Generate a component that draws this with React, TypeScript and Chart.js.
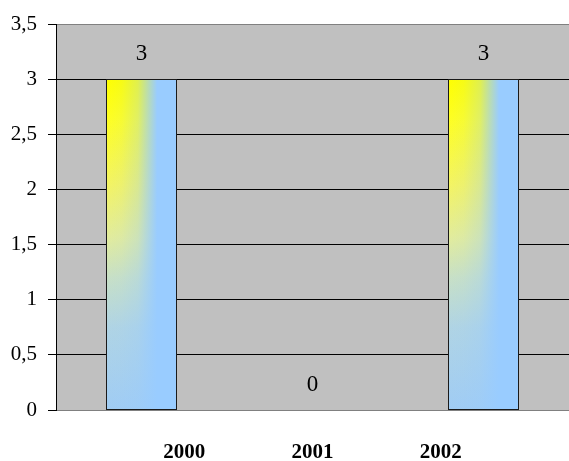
import React, { useEffect, useRef } from "react";
import { Chart, registerables } from "chart.js";

Chart.register(...registerables);

const categories: string[] = ["2000", "2001", "2002"];
const values: number[] = [3, 0, 3];
const axisLabels: string[] = ["", "2000", "2001", "2002", ""];
const yMin = 0;
const yMax = 3.5;
const yStep = 0.5;

const FONT = "'Liberation Serif', 'Times New Roman', serif";

const plotBgPlugin = {
  id: "plotBg",
  beforeDraw(chart: any) {
    const { ctx, chartArea } = chart;
    if (!chartArea) return;
    ctx.save();
    ctx.fillStyle = "#C0C0C0";
    ctx.fillRect(chartArea.left, chartArea.top, chartArea.right - chartArea.left, chartArea.bottom - chartArea.top);
    ctx.restore();
  },
};

function barRect(el: any) {
  const p = el.getProps(["x", "y", "base", "width"], true);
  const left = Math.round(p.x - p.width / 2);
  const right = Math.round(p.x + p.width / 2);
  const top = Math.round(Math.min(p.y, p.base));
  const bottom = Math.round(Math.max(p.y, p.base));
  return { left, top, w: right - left, h: bottom - top };
}

const barFillPlugin = {
  id: "barFill",
  afterDatasetsDraw(chart: any) {
    const { ctx } = chart;
    const meta = chart.getDatasetMeta(0);
    meta.data.forEach((el: any) => {
      const { left, top, w, h } = barRect(el);
      if (h < 1) return;
      ctx.save();
      const gv = ctx.createLinearGradient(0, top, 0, top + h);
      gv.addColorStop(0, "#FFFF00");
      gv.addColorStop(0.12, "#FFFF20");
      gv.addColorStop(0.32, "#F4F462");
      gv.addColorStop(0.48, "#E2EC9C");
      gv.addColorStop(0.6, "#C8E0C6");
      gv.addColorStop(0.75, "#B0D4E4");
      gv.addColorStop(1, "#A0CCF4");
      ctx.fillStyle = gv;
      ctx.fillRect(left, top, w, h);
      const gh = ctx.createLinearGradient(left, 0, left + w, 0);
      gh.addColorStop(0, "rgba(153,204,255,0)");
      gh.addColorStop(0.22, "rgba(153,204,255,0.08)");
      gh.addColorStop(0.45, "rgba(153,204,255,0.3)");
      gh.addColorStop(0.6, "rgba(153,204,255,0.7)");
      gh.addColorStop(0.72, "rgba(153,204,255,1)");
      gh.addColorStop(1, "rgba(153,204,255,1)");
      ctx.fillStyle = gh;
      ctx.fillRect(left, top, w, h);
      ctx.strokeStyle = "#1a1a1a";
      ctx.lineWidth = 1;
      ctx.strokeRect(left + 0.5, top + 0.5, w - 1, h - 1);
      ctx.restore();
    });
  },
};

const valueLabelPlugin = {
  id: "valueLabels",
  afterDatasetsDraw(chart: any) {
    const { ctx } = chart;
    const meta = chart.getDatasetMeta(0);
    ctx.save();
    ctx.fillStyle = "#000";
    ctx.font = `23px ${FONT}`;
    ctx.textAlign = "center";
    ctx.textBaseline = "middle";
    meta.data.forEach((el: any, i: number) => {
      const p = el.getProps(["x", "y"], true);
      ctx.fillText(String(values[i]), p.x, p.y - 25);
    });
    ctx.restore();
  },
};

export default function App() {
  const canvasRef = useRef<HTMLCanvasElement | null>(null);

  useEffect(() => {
    if (!canvasRef.current) return;
    const chart = new Chart(canvasRef.current, {
      type: "bar",
      data: {
        labels: categories,
        datasets: [
          {
            data: values,
            backgroundColor: "rgba(0,0,0,0)",
            borderWidth: 0,
            categoryPercentage: 1,
            barPercentage: 0.41,
          },
        ],
      },
      options: {
        animation: false,
        responsive: true,
        maintainAspectRatio: false,
        layout: { padding: { top: 24, right: 0, left: 0, bottom: 0 } },
        plugins: {
          legend: { display: false },
          tooltip: { enabled: false },
        },
        scales: {
          x: {
            type: "category",
            display: false,
            offset: true,
          },
          x2: {
            type: "category",
            position: "bottom",
            labels: axisLabels,
            offset: false,
            grid: { display: false, drawTicks: true, tickLength: 30 },
            border: { display: false },
            ticks: {
              color: "#000",
              padding: 0,
              autoSkip: false,
              maxRotation: 0,
              font: { family: FONT, size: 21, weight: "bold" },
            },
            afterFit(scale: any) {
              scale.height = 51;
            },
          },
          y: {
            type: "linear",
            min: yMin,
            max: yMax,
            ticks: {
              stepSize: yStep,
              color: "#000",
              padding: 11,
              font: { family: FONT, size: 21 },
              callback: (v: any) => String(v).replace(".", ","),
            },
            grid: {
              color: (c: any) =>
                c.tick && (c.tick.value === yMax || c.tick.value === yMin) ? "#808080" : "#000",
              tickColor: "#000",
              tickLength: 8,
              lineWidth: 1,
            },
            border: { display: true, color: "#000", width: 1 },
            afterFit(scale: any) {
              scale.width = 56;
            },
          },
        },
      },
      plugins: [plotBgPlugin, barFillPlugin, valueLabelPlugin],
    } as any);
    return () => chart.destroy();
  }, []);

  return (
    <div style={{ position: "absolute", left: 0, top: 0, width: 569, height: 461, background: "#fff" }}>
      <canvas ref={canvasRef} />
    </div>
  );
}
